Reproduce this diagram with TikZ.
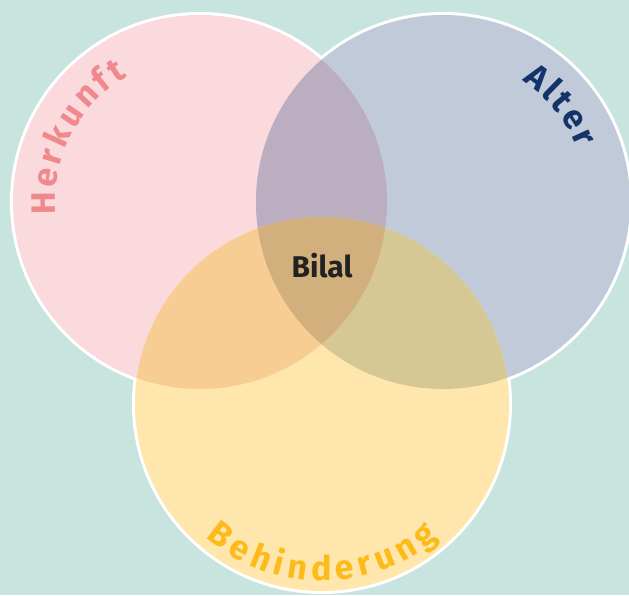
\documentclass[tikz,border=0pt]{standalone}
\usepackage{fontspec}
\setmainfont{Fira Sans}
\usetikzlibrary{decorations.text}

\definecolor{bgteal}{HTML}{C8E4DF}
\definecolor{herkunftfill}{HTML}{FADADD}
\definecolor{alterfill}{HTML}{C0CAD8}
\definecolor{behfill}{HTML}{FEE6AC}
\definecolor{herkunftalter}{HTML}{BAAEC0}
\definecolor{herkunftbeh}{HTML}{F8CD93}
\definecolor{alterbeh}{HTML}{D5C894}
\definecolor{allthree}{HTML}{D2B07D}
\definecolor{herkunfttext}{HTML}{F0898E}
\definecolor{altertext}{HTML}{14336A}
\definecolor{behtext}{HTML}{FDBB1A}
\definecolor{nametext}{HTML}{222222}

\begin{document}
\begin{tikzpicture}[x=1pt, y=1pt,
    rim/.style={white, line width=6},
    circletext/.style 2 args={decorate, decoration={text along path,
        text align={fit to path}, text color=#1,
        text={|\bfseries\fontsize{34}{34}\selectfont|#2}}}]
    % frame and background
    \fill[bgteal] (0,0) rectangle (629,595);
    \useasboundingbox (0,0) rectangle (629,595);

    \coordinate (herkunft) at (200,393);
    \coordinate (alter) at (443,393);
    \coordinate (beh) at (322,191);

    % white rims, inner half is covered by the fills
    \foreach \c in {herkunft, alter, beh}{
        \draw[rim] (\c) circle[radius=187];
    }
    \fill[herkunftfill] (herkunft) circle[radius=187];
    \fill[alterfill] (alter) circle[radius=187];
    \fill[behfill] (beh) circle[radius=187];

    % overlaps
    \begin{scope}
        \clip (herkunft) circle[radius=187];
        \fill[herkunftalter] (alter) circle[radius=187];
        \fill[herkunftbeh] (beh) circle[radius=187];
    \end{scope}
    \begin{scope}
        \clip (alter) circle[radius=187];
        \fill[alterbeh] (beh) circle[radius=187];
        \clip (beh) circle[radius=187];
        \fill[allthree] (herkunft) circle[radius=187];
    \end{scope}

    % labels along the circles
    \path[circletext={herkunfttext}{Herkunft}]
        (herkunft) ++(185:145) arc[start angle=185, end angle=120, radius=145];
    \path[circletext={altertext}{Alter}]
        (alter) ++(57:145) arc[start angle=57, end angle=22, radius=145];
    \path[circletext={behtext}{Behinderung}]
        (beh) ++(229:177) arc[start angle=229, end angle=311, radius=177];

    \node[text=nametext, font=\bfseries\fontsize{30}{30}\selectfont]
        (bilal) at (322,329) {Bilal};
\end{tikzpicture}
\end{document}
